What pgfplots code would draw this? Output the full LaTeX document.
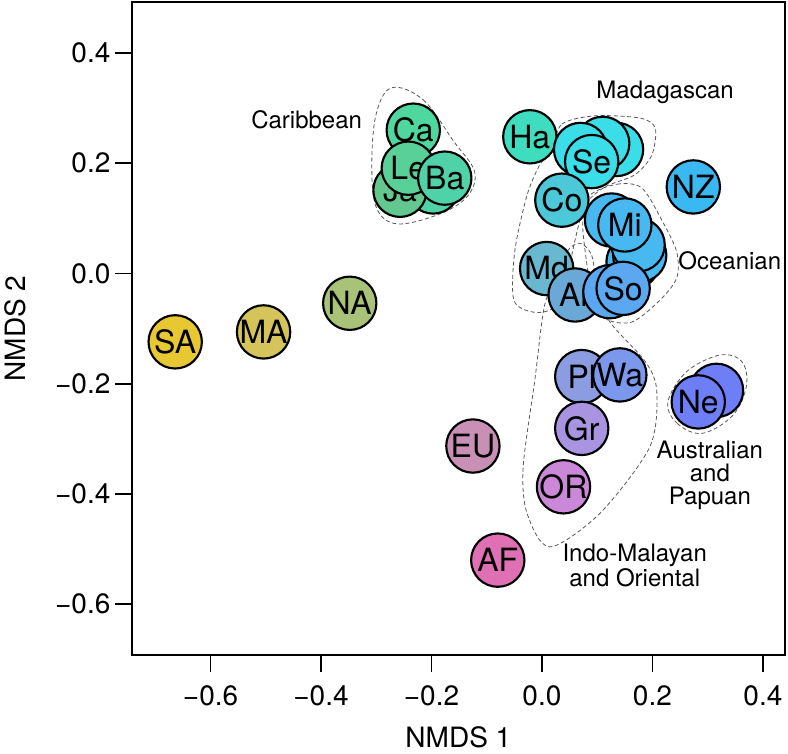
\documentclass[border=0pt]{standalone}
\usepackage{fontspec}
\setmainfont{TeX Gyre Heros}
\usepackage{pgfplots}
\pgfplotsset{compat=1.18}
\newcommand{\tickfont}{\fontsize{21}{21}\selectfont}
\newcommand{\bubfont}{\fontsize{24}{24}\selectfont}
\newcommand{\annfont}{\fontsize{18}{17}\selectfont}
\definecolor{cSA}{HTML}{E8C832}
\definecolor{cMA}{HTML}{D4C45A}
\definecolor{cNA}{HTML}{A8C278}
\definecolor{cCa}{HTML}{4ED8A0}
\definecolor{cLe}{HTML}{58D098}
\definecolor{cJa}{HTML}{62C890}
\definecolor{cBa}{HTML}{50D2A8}
\definecolor{cHa}{HTML}{3EDDC0}
\definecolor{cSe}{HTML}{3ADDE8}
\definecolor{cCo}{HTML}{4CC8D8}
\definecolor{cNZ}{HTML}{3AB8F2}
\definecolor{cMi}{HTML}{48B8F0}
\definecolor{cMd}{HTML}{6AB8D0}
\definecolor{cAr}{HTML}{6AA8D8}
\definecolor{cSo}{HTML}{5CA8F0}
\definecolor{cPl}{HTML}{8C9CE0}
\definecolor{cWa}{HTML}{7C98EC}
\definecolor{cGr}{HTML}{A894E0}
\definecolor{cOR}{HTML}{CC88D8}
\definecolor{cEU}{HTML}{C890B4}
\definecolor{cAF}{HTML}{E070B4}
\definecolor{cNe}{HTML}{6E7EF6}
\newcommand{\bub}[4]{\addplot[only marks, mark=*, mark size=20pt,
  mark options={fill=#4, draw=black, line width=1.6pt},
  nodes near coords={#3}, nodes near coords align={center},
  every node near coord/.append style={anchor=center, inner sep=0pt, font=\bubfont, text=black}]
  coordinates {(#1,#2)};}
\begin{document}
\begin{tikzpicture}
\begin{axis}[
  at={(0,0)}, anchor=south west,
  scale only axis, width=489.75pt, height=489.75pt,
  xmin=-0.7426, xmax=0.44, ymin=-0.6925, ymax=0.4925,
  axis line style={line width=1.2pt},
  xtick={-0.6,-0.4,-0.2,0,0.2,0.4},
  xticklabels={{−0.6},{−0.4},{−0.2},{0.0},{0.2},{0.4}},
  ytick={-0.6,-0.4,-0.2,0,0.2,0.4},
  yticklabels={{−0.6},{−0.4},{−0.2},{0.0},{0.2},{0.4}},
  tick align=outside, tick pos=left, major tick length=12.5pt,
  tick style={line width=1.2pt, black},
  ticklabel style={font=\tickfont},
  xticklabel style={yshift=-6.5pt},
  xlabel={NMDS 1}, ylabel={NMDS 2},
  xlabel style={at={(axis description cs:0.5,-0.1409)}, anchor=base, font=\tickfont},
  ylabel style={at={(axis description cs:-0.1633,0.5)}, anchor=base, font=\tickfont},
  clip=false,
]
% hulls
\draw[densely dashed, gray!70!black, line width=0.6pt] plot[smooth cycle, tension=0.6] coordinates {
 (-0.272,0.337) (-0.215,0.315) (-0.160,0.240) (-0.122,0.185) (-0.135,0.140) (-0.185,0.108) (-0.262,0.090) (-0.300,0.120) (-0.308,0.200) (-0.300,0.290)};
\draw[densely dashed, gray!70!black, line width=0.6pt] plot[smooth cycle, tension=0.5] coordinates {
 (0.018,0.224) (0.036,0.271) (0.096,0.286) (0.177,0.282) (0.205,0.264) (0.199,0.215) (0.168,0.179) (0.114,0.157) (0.078,0.124) (0.060,0.061) (0.042,-0.021) (0.020,-0.063) (-0.016,-0.070) (-0.051,-0.048) (-0.049,0.042) (-0.027,0.142) (-0.004,0.197)};
\draw[densely dashed, gray!70!black, line width=0.6pt] plot[smooth cycle, tension=0.5] coordinates {
 (0.087,0.142) (0.136,0.162) (0.181,0.155) (0.219,0.093) (0.244,0.039) (0.244,-0.008) (0.214,-0.048) (0.163,-0.088) (0.114,-0.081) (0.090,-0.030) (0.078,0.042) (0.074,0.097)};
\draw[densely dashed, gray!70!black, line width=0.6pt] plot[smooth cycle, tension=0.5] coordinates {
 (0.069,0.055) (0.090,0.033) (0.101,-0.030) (0.123,-0.088) (0.188,-0.161) (0.208,-0.215) (0.195,-0.315) (0.105,-0.435) (0.014,-0.496) (-0.027,-0.435) (-0.034,-0.351) (-0.013,-0.194) (0.005,-0.057) (0.033,0.006) (0.047,0.042)};
\draw[densely dashed, gray!70!black, line width=0.6pt] plot[smooth cycle, tension=0.6] coordinates {
 (0.228,-0.233) (0.245,-0.272) (0.290,-0.290) (0.345,-0.258) (0.370,-0.205) (0.362,-0.160) (0.322,-0.148) (0.262,-0.178)};
% bubbles
\bub{-0.664}{-0.124}{SA}{cSA}
\bub{-0.504}{-0.106}{MA}{cMA}
\bub{-0.348}{-0.054}{NA}{cNA}
\bub{-0.125}{-0.313}{EU}{cEU}
\bub{-0.080}{-0.520}{AF}{cAF}
\bub{-0.233}{0.260}{Ca}{cCa}
\bub{-0.197}{0.157}{}{cBa}
\bub{-0.257}{0.151}{Ja}{cJa}
\bub{-0.242}{0.191}{Le}{cLe}
\bub{-0.176}{0.173}{Ba}{cBa}
\bub{-0.022}{0.248}{Ha}{cHa}
\bub{0.135}{0.225}{}{cSe}
\bub{0.110}{0.236}{}{cSe}
\bub{0.070}{0.225}{}{cSe}
\bub{0.090}{0.203}{Se}{cSe}
\bub{0.036}{0.133}{Co}{cCo}
\bub{0.274}{0.157}{NZ}{cNZ}
\bub{0.165}{0.021}{}{cMi}
\bub{0.177}{0.033}{}{cMi}
\bub{0.174}{0.052}{}{cMi}
\bub{0.126}{0.097}{}{cMi}
\bub{0.150}{0.088}{Mi}{cMi}
\bub{0.0085}{0.009}{Md}{cMd}
\bub{0.060}{-0.039}{Ar}{cAr}
\bub{0.123}{-0.033}{}{cSo}
\bub{0.147}{-0.027}{So}{cSo}
\bub{0.072}{-0.187}{Pl}{cPl}
\bub{0.141}{-0.184}{Wa}{cWa}
\bub{0.072}{-0.281}{Gr}{cGr}
\bub{0.039}{-0.387}{OR}{cOR}
\bub{0.316}{-0.212}{}{cNe}
\bub{0.283}{-0.233}{Ne}{cNe}
% annotations
\node[font=\annfont] at (axis cs:-0.426,0.278) {Caribbean};
\node[font=\annfont] at (axis cs:0.223,0.329) {Madagascan};
\node[font=\annfont] at (axis cs:0.340,0.024) {Oceanian};
\node[font=\annfont, align=center] at (axis cs:0.304,-0.366) {Australian\\and\\Papuan};
\node[font=\annfont, align=center] at (axis cs:0.168,-0.530) {Indo-Malayan\\and Oriental};
\end{axis}
\pgfresetboundingbox
\path[use as bounding box] (-98.8pt,-73.5pt) rectangle (492pt,491.25pt);
\end{tikzpicture}
\end{document}
